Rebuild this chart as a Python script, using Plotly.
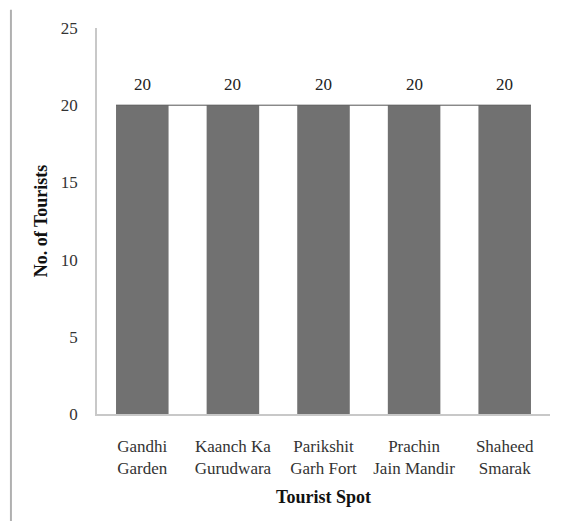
import plotly.graph_objects as go

spots = ["Gandhi<br>Garden", "Kaanch Ka<br>Gurudwara", "Parikshit<br>Garh Fort",
         "Prachin<br>Jain Mandir", "Shaheed<br>Smarak"]
tourists = [20, 20, 20, 20, 20]
y_ticks = [0, 5, 10, 15, 20, 25]

serif = "Times New Roman, Liberation Serif, serif"
bar_color = "#717171"
axis_color = "#c8c8c8"

fig = go.Figure(
    go.Bar(
        x=spots,
        y=tourists,
        marker=dict(color=bar_color, line=dict(width=0)),
        width=0.58,
    )
)

# value labels floating above each bar
for spot, val in zip(spots, tourists):
    fig.add_annotation(x=spot, y=val, text=str(val), showarrow=False,
                       yanchor="bottom", yshift=9,
                       font=dict(family=serif, size=17, color="#222222"))

# thin rule across the bar tops
fig.add_shape(type="line", xref="x", yref="y", x0=-0.29, x1=4.29,
              y0=max(tourists), y1=max(tourists),
              line=dict(color="#555555", width=1))

# frame line on the left side
fig.add_shape(type="line", xref="paper", yref="paper", x0=-0.19, x1=-0.19,
              y0=-0.28, y1=1.047, line=dict(color="#b0b0b0", width=2))

fig.update_layout(
    width=563, height=521,
    margin=dict(l=97, r=13, t=28, b=107),
    paper_bgcolor="white", plot_bgcolor="white",
    font=dict(family=serif, size=17, color="#333333"),
    showlegend=False,
    bargap=0.42,
)
fig.update_xaxes(
    showline=True, linecolor=axis_color, linewidth=1.5,
    ticks="", ticklabelstandoff=16,
    tickfont=dict(family=serif, size=17, color="#333333"),
    title=dict(text="<b>Tourist Spot</b>", font=dict(family=serif, size=18, color="#111111"),
               standoff=13),
)
fig.update_yaxes(
    range=[0, 25], tickvals=y_ticks, showgrid=False, zeroline=False,
    showline=True, linecolor=axis_color, linewidth=1.5,
    ticks="", ticklabelstandoff=14,
    tickfont=dict(family=serif, size=17, color="#333333"),
    title=dict(text="<b>No. of Tourists</b>", font=dict(family=serif, size=18, color="#111111"),
               standoff=9),
)

fig.write_html("out.html")
